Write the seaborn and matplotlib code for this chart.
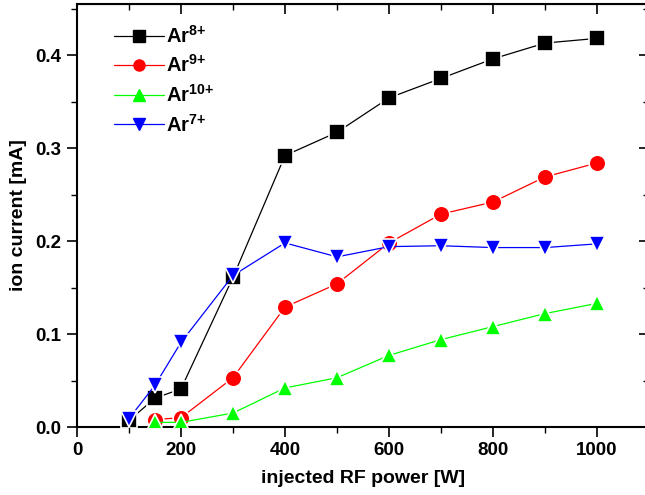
import numpy as np
import pandas as pd
import matplotlib
matplotlib.use("Agg")
import matplotlib.pyplot as plt
from matplotlib.ticker import MultipleLocator, FormatStrFormatter
from matplotlib.lines import Line2D
import seaborn as sns

power = [100, 150, 200, 300, 400, 500, 600, 700, 800, 900, 1000]
ar8 = [0.007, 0.031, 0.041, 0.161, 0.292, 0.317, 0.354, 0.375, 0.396, 0.413, 0.418]
ar9 = [np.nan, 0.008, 0.010, 0.053, 0.129, 0.154, 0.198, 0.229, 0.242, 0.269, 0.284]
ar10 = [np.nan, 0.005, 0.005, 0.015, 0.042, 0.053, 0.077, 0.094, 0.108, 0.122, 0.133]
ar7 = [0.009, 0.045, 0.091, 0.163, 0.198, 0.183, 0.194, 0.195, 0.193, 0.193, 0.197]
series_names = ["Ar8+", "Ar9+", "Ar10+", "Ar7+"]
labels = [r"Ar$^{8{+}}$", r"Ar$^{9{+}}$", r"Ar$^{10{+}}$", r"Ar$^{7{+}}$"]
colors = ["black", "#ff0000", "#00ff00", "#0000ff"]
markers = ["s", "o", "^", "v"]

sns.set_style("ticks")
plt.rcParams["font.family"] = ["Liberation Sans", "DejaVu Sans"]
plt.rcParams["font.weight"] = "bold"
plt.rcParams["mathtext.fontset"] = "custom"
plt.rcParams["mathtext.rm"] = "Liberation Sans:bold"
plt.rcParams["mathtext.bf"] = "Liberation Sans:bold"
plt.rcParams["mathtext.default"] = "bf"
for k in ["text.color", "axes.labelcolor", "xtick.color", "ytick.color",
          "axes.edgecolor", "xtick.labelcolor", "ytick.labelcolor"]:
    plt.rcParams[k] = "black"

rows = []
for name, vals in zip(series_names, [ar8, ar9, ar10, ar7]):
    for p, v in zip(power, vals):
        rows.append({"power": p, "current": v, "ion": name})
df = pd.DataFrame(rows).dropna()

fig = plt.figure(figsize=(6.45, 4.95), dpi=100)
ax = fig.add_axes([77 / 645, 68 / 495, 572 / 645, 423 / 495])

sns.lineplot(data=df, x="power", y="current", hue="ion", style="ion",
             hue_order=series_names, style_order=series_names,
             palette=dict(zip(series_names, colors)),
             markers=dict(zip(series_names, markers)), dashes=False,
             markersize=12, markeredgecolor="white", markeredgewidth=1.2,
             linewidth=0.9, ax=ax, legend=False)

for i, line in enumerate(ax.get_lines()):
    line.set_zorder(3 + i)

ax.set_xlim(0, 1100)
ax.set_ylim(0, 0.455)
ax.xaxis.set_major_locator(MultipleLocator(200))
ax.xaxis.set_minor_locator(MultipleLocator(100))
ax.yaxis.set_major_locator(MultipleLocator(0.1))
ax.yaxis.set_minor_locator(MultipleLocator(0.05))
ax.yaxis.set_major_formatter(FormatStrFormatter("%.1f"))
ax.tick_params(which="major", direction="out", length=7, width=1.2, labelsize=13.5, pad=4)
ax.tick_params(which="minor", direction="out", length=4, width=1.0)
for lab in ax.get_xticklabels() + ax.get_yticklabels():
    lab.set_fontweight("bold")
for sp in ax.spines.values():
    sp.set_linewidth(1.5)
    sp.set_visible(True)

top = ax.secondary_xaxis("top")
top.xaxis.set_major_locator(MultipleLocator(200))
top.xaxis.set_minor_locator(MultipleLocator(100))
top.tick_params(which="major", direction="in", length=7, width=1.2, labeltop=False)
top.tick_params(which="minor", direction="in", length=4, width=1.0)
right = ax.secondary_yaxis("right")
right.yaxis.set_major_locator(MultipleLocator(0.1))
right.yaxis.set_minor_locator(MultipleLocator(0.05))
right.tick_params(which="major", direction="in", length=7, width=1.2, labelright=False)
right.tick_params(which="minor", direction="in", length=4, width=1.0)

ax.set_xlabel("injected RF power [W]", fontsize=14, fontweight="bold", labelpad=8)
ax.set_ylabel("ion current [mA]", fontsize=14, fontweight="bold", labelpad=6)

handles = [Line2D([], [], color=c, marker=m, markersize=8, linewidth=0.9,
                  markeredgecolor=c) for c, m in zip(colors, markers)]
ax.legend(handles, labels, loc="upper left", bbox_to_anchor=(0.05, 0.97),
          frameon=False, fontsize=14.5, handlelength=2.5, handletextpad=0.1,
          labelspacing=0.38, borderaxespad=0)

fig.savefig("out.png", dpi=100)
